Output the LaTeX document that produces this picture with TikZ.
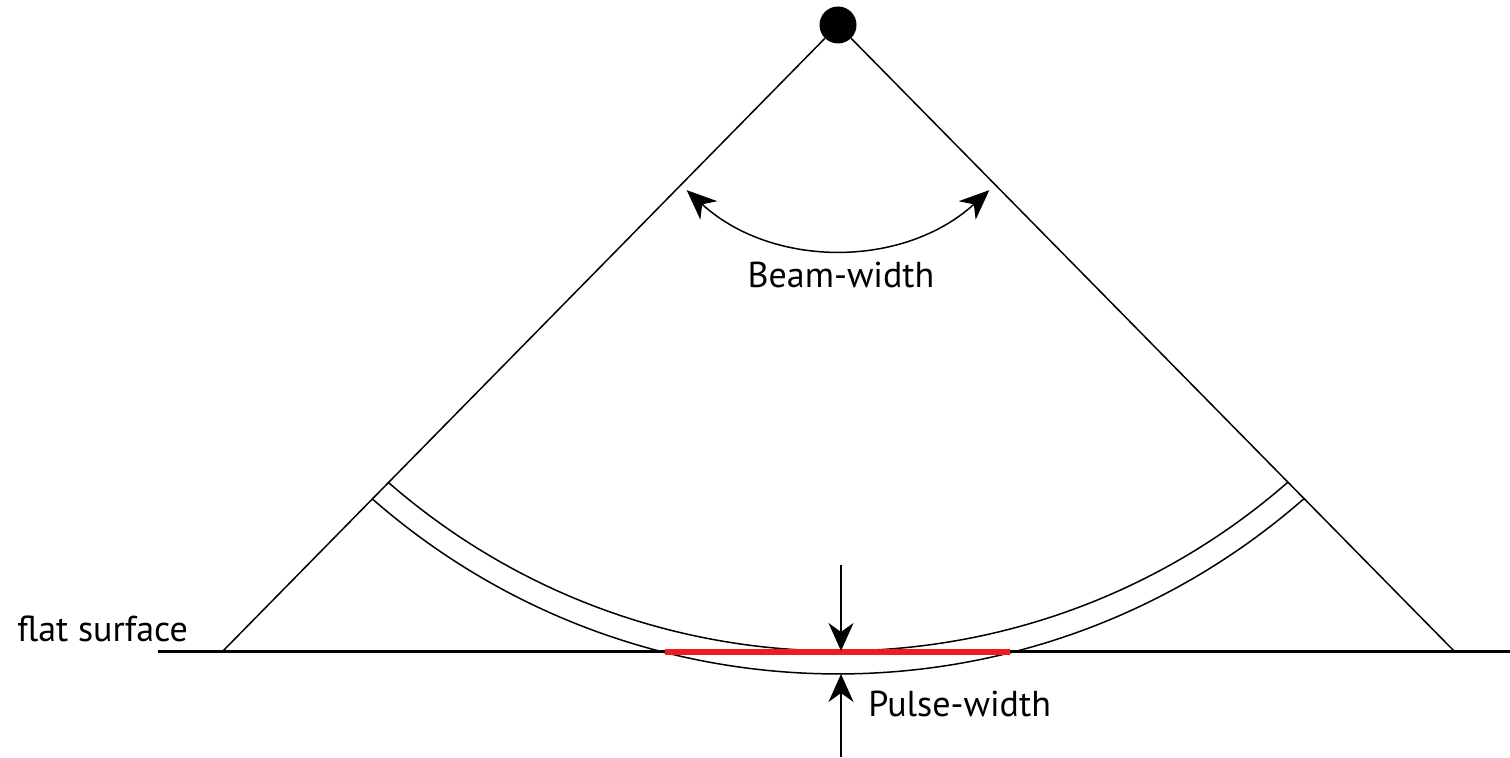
\documentclass[tikz,border=0pt]{standalone}
\usepackage{fontspec}
\setmainfont{PT Sans}
\usetikzlibrary{arrows.meta, positioning}
\definecolor{pulsered}{RGB}{237,28,36}

\begin{document}
\begin{tikzpicture}[
    x=0.5pt, y=0.5pt,
    beam/.style={line width=0.75pt},
    ring/.style={line width=0.75pt},
    surface/.style={line width=1.5pt},
    footprint/.style={line width=2.9pt, draw=pulsered},
    dimarrow/.style={line width=0.75pt, -{Stealth[length=14pt, width=12.5pt, inset=4.5pt]}},
    anglearrow/.style={line width=0.75pt, {Stealth[length=15pt, width=12.5pt, inset=4.5pt]}-{Stealth[length=15pt, width=12.5pt, inset=4.5pt]}},
    label/.style={font=\fontsize{18}{22}\selectfont, inner sep=0pt},
]
\useasboundingbox (0,0) rectangle (1510,758);

% Source and beam edges
\node[circle, fill, minimum size=18.5pt, inner sep=0pt] (source) at (838,733) {};
\coordinate (groundL) at (222,106);
\coordinate (groundR) at (1455,106);
\draw[beam] (source) -- (groundL);
\draw[beam] (source) -- (groundR);

% Flat surface
\coordinate (surfL) at (158,106);
\coordinate (surfR) at (1510,106);
\draw[surface] (surfL) -- (surfR);
\node[label, anchor=base west] (surflabel) at (17,116) {flat surface};

% Pulse front
\coordinate (wavecentre) at (838,791);
\draw[ring] (wavecentre) ++(228.9:684) arc[start angle=228.9, end angle=311.1, radius=684];
\draw[ring] (wavecentre) ++(228.8:707) arc[start angle=228.8, end angle=311.2, radius=707];

% Insonified footprint
\coordinate (footL) at (665,106);
\coordinate (footR) at (1010,106);
\draw[footprint] (footL) -- (footR);

% Beam-width
\draw[anglearrow] (source.center) ++(227.5:224) arc[start angle=227.5, end angle=312.5, radius=224];
\node[label, anchor=base] (bwlabel) at (841,470) {Beam-width};

% Pulse-width
\coordinate (pwtop) at (841,193);
\coordinate (pwin) at (841,107);
\coordinate (pwbot) at (841,1);
\coordinate (pwout) at (841,84);
\draw[dimarrow] (pwtop) -- (pwin);
\draw[dimarrow] (pwbot) -- (pwout);
\node[label, anchor=base west] (pwlabel) at (868,41) {Pulse-width};

\end{tikzpicture}
\end{document}
